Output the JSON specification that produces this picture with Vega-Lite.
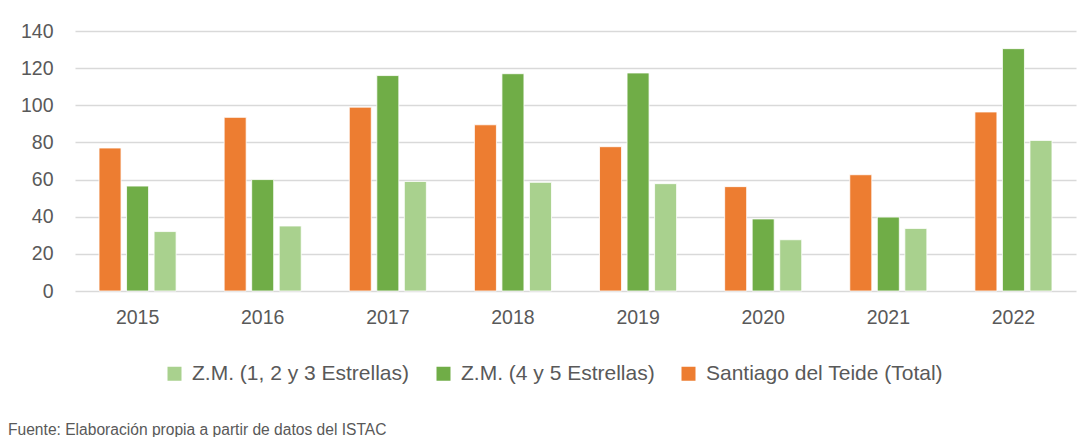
{
  "$schema": "https://vega.github.io/schema/vega-lite/v6.json",
  "width": 1001,
  "height": 260,
  "autosize": {"type": "none"},
  "padding": {"left": 75, "top": 31, "right": 15, "bottom": 146},
  "background": "white",
  "title": {
    "text": "Fuente: Elaboración propia a partir de datos del ISTAC",
    "orient": "bottom",
    "anchor": "start",
    "frame": "group",
    "dx": -67,
    "offset": 39,
    "font": "Liberation Sans",
    "fontSize": 15.6,
    "fontWeight": "normal",
    "color": "#595959"
  },
  "data": {
    "values": [
      {"year": "2015", "series": "Santiago del Teide (Total)", "value": 77},
      {"year": "2015", "series": "Z.M. (4 y 5 Estrellas)", "value": 56.5},
      {"year": "2015", "series": "Z.M. (1, 2 y 3 Estrellas)", "value": 32},
      {"year": "2016", "series": "Santiago del Teide (Total)", "value": 93.5},
      {"year": "2016", "series": "Z.M. (4 y 5 Estrellas)", "value": 60},
      {"year": "2016", "series": "Z.M. (1, 2 y 3 Estrellas)", "value": 35},
      {"year": "2017", "series": "Santiago del Teide (Total)", "value": 99},
      {"year": "2017", "series": "Z.M. (4 y 5 Estrellas)", "value": 116},
      {"year": "2017", "series": "Z.M. (1, 2 y 3 Estrellas)", "value": 59},
      {"year": "2018", "series": "Santiago del Teide (Total)", "value": 89.5},
      {"year": "2018", "series": "Z.M. (4 y 5 Estrellas)", "value": 117},
      {"year": "2018", "series": "Z.M. (1, 2 y 3 Estrellas)", "value": 58.5},
      {"year": "2019", "series": "Santiago del Teide (Total)", "value": 77.7},
      {"year": "2019", "series": "Z.M. (4 y 5 Estrellas)", "value": 117.4},
      {"year": "2019", "series": "Z.M. (1, 2 y 3 Estrellas)", "value": 57.8},
      {"year": "2020", "series": "Santiago del Teide (Total)", "value": 56.2},
      {"year": "2020", "series": "Z.M. (4 y 5 Estrellas)", "value": 38.8},
      {"year": "2020", "series": "Z.M. (1, 2 y 3 Estrellas)", "value": 27.6},
      {"year": "2021", "series": "Santiago del Teide (Total)", "value": 62.6},
      {"year": "2021", "series": "Z.M. (4 y 5 Estrellas)", "value": 39.8},
      {"year": "2021", "series": "Z.M. (1, 2 y 3 Estrellas)", "value": 33.7},
      {"year": "2022", "series": "Santiago del Teide (Total)", "value": 96.4},
      {"year": "2022", "series": "Z.M. (4 y 5 Estrellas)", "value": 130.5},
      {"year": "2022", "series": "Z.M. (1, 2 y 3 Estrellas)", "value": 81.1}
    ]
  },
  "mark": {"type": "bar", "stroke": "white", "strokeWidth": 0.8},
  "encoding": {
    "x": {
      "field": "year",
      "type": "nominal",
      "scale": {"paddingInner": 0.384, "paddingOuter": 0.192},
      "axis": {
        "title": null,
        "labelAngle": 0,
        "domain": false,
        "ticks": false,
        "labelPadding": 17,
        "labelFont": "Liberation Sans",
        "labelFontSize": 19.5,
        "labelColor": "#595959"
      }
    },
    "xOffset": {
      "field": "series",
      "type": "nominal",
      "sort": ["Santiago del Teide (Total)", "Z.M. (4 y 5 Estrellas)", "Z.M. (1, 2 y 3 Estrellas)"],
      "scale": {"paddingInner": 0.2, "paddingOuter": 0}
    },
    "y": {
      "field": "value",
      "type": "quantitative",
      "scale": {"domain": [0, 140], "nice": false},
      "axis": {
        "title": null,
        "values": [0, 20, 40, 60, 80, 100, 120, 140],
        "domain": false,
        "ticks": false,
        "labelPadding": 22,
        "labelFont": "Liberation Sans",
        "labelFontSize": 19.5,
        "labelColor": "#595959",
        "gridColor": "#d9d9d9",
        "gridWidth": 1.5
      }
    },
    "color": {
      "field": "series",
      "type": "nominal",
      "scale": {
        "domain": ["Z.M. (1, 2 y 3 Estrellas)", "Z.M. (4 y 5 Estrellas)", "Santiago del Teide (Total)"],
        "range": ["#a9d18e", "#70ad47", "#ed7d31"]
      },
      "legend": {
        "title": null,
        "orient": "none",
        "direction": "horizontal",
        "legendX": 89,
        "legendY": 332,
        "padding": 0,
        "symbolType": "square",
        "symbolSize": 196,
        "symbolStrokeWidth": 0,
        "labelOffset": 7,
        "columnPadding": 23,
        "labelFont": "Liberation Sans",
        "labelFontSize": 21,
        "labelColor": "#595959",
        "labelLimit": 400
      }
    }
  },
  "config": {
    "view": {"stroke": null},
    "axis": {"labelFontWeight": "normal"}
  }
}
